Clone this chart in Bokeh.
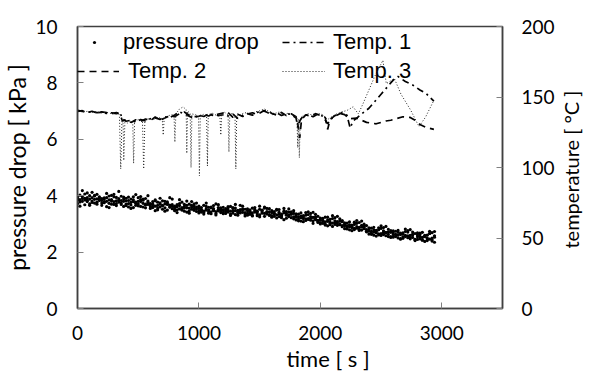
import math
from bokeh.plotting import figure
from bokeh.models import Range1d, LinearAxis, FixedTicker, Legend, LegendItem, Title
from bokeh.embed import file_html
from bokeh.resources import INLINE

# ---------------- data ----------------
pd_time = [0, 20, 40, 60, 80, 100, 120, 140, 160, 180,
           200, 220, 240, 260, 280, 300, 320, 340, 360, 380,
           400, 420, 440, 460, 480, 500, 520, 540, 560, 580,
           600, 620, 640, 660, 680, 700, 720, 740, 760, 780,
           800, 820, 840, 860, 880, 900, 920, 940, 960, 980,
           1000, 1020, 1040, 1060, 1080, 1100, 1120, 1140, 1160, 1180,
           1200, 1220, 1240, 1260, 1280, 1300, 1320, 1340, 1360, 1380,
           1400, 1420, 1440, 1460, 1480, 1500, 1520, 1540, 1560, 1580,
           1600, 1620, 1640, 1660, 1680, 1700, 1720, 1740, 1760, 1780,
           1800, 1820, 1840, 1860, 1880, 1900, 1920, 1940, 1960, 1980,
           2000, 2020, 2040, 2060, 2080, 2100, 2120, 2140, 2160, 2180,
           2200, 2220, 2240, 2260, 2280, 2300, 2320, 2340, 2360, 2380,
           2400, 2420, 2440, 2460, 2480, 2500, 2520, 2540, 2560, 2580,
           2600, 2620, 2640, 2660, 2680, 2700, 2720, 2740, 2760, 2780,
           2800, 2820, 2840, 2860, 2880, 2900, 2920, 2940]

pd_a = [3.95, 4.02, 3.80, 3.91, 4.10, 3.88, 3.76, 3.99, 4.05, 3.83,
        3.90, 3.78, 4.08, 3.85, 3.70, 3.96, 3.82, 4.15, 3.74, 3.88,
        3.82, 3.95, 3.67, 3.79, 4.04, 3.71, 3.86, 3.60, 3.90, 3.76,
        3.72, 3.58, 3.85, 3.66, 3.75, 3.52, 3.80, 3.69, 3.61, 3.88,
        3.63, 3.50, 3.72, 3.58, 3.45, 3.81, 3.56, 3.66, 3.48, 3.60,
        3.55, 3.42, 3.66, 3.49, 3.38, 3.60, 3.47, 3.71, 3.52, 3.40,
        3.50, 3.37, 3.61, 3.45, 3.55, 3.33, 3.48, 3.66, 3.41, 3.52,
        3.47, 3.34, 3.56, 3.42, 3.29, 3.52, 3.38, 3.60, 3.44, 3.33,
        3.40, 3.27, 3.49, 3.35, 3.22, 3.45, 3.31, 3.53, 3.38, 3.25,
        3.30, 3.17, 3.39, 3.24, 3.12, 3.33, 3.20, 3.41, 3.15, 3.27,
        3.15, 3.02, 3.24, 3.09, 2.97, 3.19, 3.05, 3.27, 3.00, 3.12,
        2.99, 2.86, 3.07, 2.92, 2.80, 3.02, 2.88, 3.10, 2.83, 2.94,
        2.80, 2.67, 2.88, 2.73, 2.61, 2.84, 2.69, 2.91, 2.63, 2.76,
        2.69, 2.55, 2.77, 2.62, 2.49, 2.73, 2.58, 2.80, 2.52, 2.66,
        2.61, 2.47, 2.70, 2.55, 2.41, 2.66, 2.50, 2.73]

pd_b = [3.72, 3.86, 3.97, 3.68, 3.84, 4.00, 3.93, 3.74, 3.89, 3.96,
        3.66, 3.92, 3.80, 3.73, 4.01, 3.69, 3.94, 3.77, 3.98, 3.62,
        3.65, 3.72, 3.88, 3.58, 3.77, 3.93, 3.62, 3.84, 3.70, 3.81,
        3.55, 3.79, 3.63, 3.50, 3.70, 3.82, 3.57, 3.74, 3.93, 3.54,
        3.47, 3.68, 3.53, 3.77, 3.61, 3.42, 3.70, 3.52, 3.64, 3.74,
        3.39, 3.58, 3.45, 3.62, 3.50, 3.36, 3.54, 3.44, 3.68, 3.51,
        3.36, 3.54, 3.42, 3.30, 3.58, 3.47, 3.39, 3.51, 3.63, 3.35,
        3.31, 3.50, 3.39, 3.58, 3.45, 3.32, 3.49, 3.27, 3.41, 3.54,
        3.24, 3.44, 3.32, 3.51, 3.28, 3.39, 3.20, 3.42, 3.34, 3.47,
        3.14, 3.35, 3.22, 3.08, 3.31, 3.19, 3.37, 3.11, 3.25, 3.05,
        3.00, 3.20, 3.07, 2.93, 3.16, 3.03, 3.22, 2.95, 3.10, 2.90,
        2.83, 3.03, 2.90, 2.76, 2.98, 2.85, 3.05, 2.78, 2.91, 2.72,
        2.64, 2.85, 2.71, 2.57, 2.79, 2.66, 2.87, 2.58, 2.72, 2.52,
        2.53, 2.74, 2.60, 2.46, 2.68, 2.55, 2.76, 2.47, 2.63, 2.41,
        2.45, 2.67, 2.52, 2.38, 2.60, 2.46, 2.69, 2.35]

pd_c = [3.84, 3.63, 3.90, 4.06, 3.79, 3.71, 4.12, 3.87, 3.70, 3.92,
        3.83, 3.75, 3.61, 3.99, 3.86, 3.79, 3.65, 3.90, 3.83, 3.95,
        3.91, 3.60, 3.76, 3.85, 3.66, 3.80, 3.97, 3.73, 3.57, 3.69,
        3.68, 3.62, 3.47, 3.77, 3.60, 3.66, 3.71, 3.49, 3.67, 3.63,
        3.58, 3.40, 3.65, 3.51, 3.69, 3.57, 3.46, 3.79, 3.55, 3.44,
        3.63, 3.48, 3.35, 3.53, 3.59, 3.43, 3.65, 3.37, 3.46, 3.57,
        3.59, 3.44, 3.49, 3.62, 3.38, 3.56, 3.31, 3.46, 3.53, 3.40,
        3.53, 3.41, 3.28, 3.46, 3.36, 3.63, 3.43, 3.37, 3.55, 3.30,
        3.47, 3.36, 3.21, 3.41, 3.30, 3.55, 3.37, 3.26, 3.43, 3.18,
        3.36, 3.25, 3.10, 3.29, 3.18, 3.43, 3.13, 3.23, 3.34, 3.09,
        3.21, 3.10, 2.96, 3.14, 3.01, 3.29, 2.98, 3.08, 3.18, 2.94,
        3.04, 2.93, 2.79, 2.96, 2.84, 3.12, 2.81, 2.89, 2.99, 2.74,
        2.86, 2.74, 2.60, 2.77, 2.65, 2.93, 2.62, 2.70, 2.81, 2.55,
        2.75, 2.63, 2.50, 2.67, 2.54, 2.82, 2.51, 2.59, 2.71, 2.44,
        2.68, 2.55, 2.42, 2.59, 2.47, 2.74, 2.44, 2.58]

pd_d = [3.89, 3.78, 4.18, 3.85, 3.93, 3.66, 3.81, 4.01, 3.77, 3.86,
        3.74, 3.87, 3.93, 3.58, 3.81, 4.05, 3.72, 3.84, 3.69, 3.80,
        3.70, 3.83, 3.55, 3.96, 3.73, 3.64, 3.79, 3.88, 3.67, 4.00,
        3.61, 3.70, 3.82, 3.56, 3.91, 3.64, 3.45, 3.78, 3.59, 3.68,
        3.52, 3.61, 3.86, 3.49, 3.57, 3.66, 3.38, 3.60, 3.71, 3.53,
        3.46, 3.51, 3.40, 3.74, 3.44, 3.57, 3.49, 3.32, 3.58, 3.47,
        3.41, 3.48, 3.57, 3.35, 3.46, 3.69, 3.43, 3.39, 3.50, 3.28,
        3.37, 3.45, 3.30, 3.51, 3.42, 3.25, 3.48, 3.56, 3.35, 3.43,
        3.29, 3.38, 3.52, 3.26, 3.35, 3.15, 3.44, 3.31, 3.22, 3.37,
        3.24, 3.11, 3.28, 3.19, 3.40, 3.16, 3.26, 3.02, 3.21, 3.13,
        3.05, 3.13, 2.99, 3.24, 3.06, 2.91, 3.11, 3.03, 2.97, 3.08,
        2.93, 2.82, 2.97, 2.87, 3.06, 2.90, 2.77, 2.95, 2.86, 2.80,
        2.74, 2.63, 2.78, 2.69, 2.86, 2.59, 2.75, 2.68, 2.55, 2.70,
        2.62, 2.57, 2.70, 2.48, 2.64, 2.59, 2.71, 2.53, 2.61, 2.45,
        2.54, 2.62, 2.43, 2.57, 2.50, 2.66, 2.39, 2.53]

t1_time = [0, 40, 80, 120, 160, 200, 240, 280, 320, 350, 370,
           400, 440, 480, 520, 560, 600, 640, 680, 720, 760,
           800, 840, 880, 920, 960, 1000, 1040, 1080, 1120, 1160,
           1200, 1240, 1280, 1320, 1360, 1400, 1440, 1480, 1520, 1560,
           1600, 1640, 1680, 1720, 1760, 1800, 1815, 1830,
           1860, 1900, 1940, 1980, 2020, 2060, 2100, 2140, 2180, 2220,
           2245, 2270, 2300, 2340, 2400, 2450, 2500, 2550, 2600, 2640,
           2700, 2760, 2820, 2870, 2935]
temp1 = [140.5, 139.8, 139.2, 139.6, 138.9, 139.1, 138.4, 138.8, 138.2, 139.0, 134.5,
         132.8, 133.5, 132.2, 134.0, 133.1, 134.6, 135.2, 134.1, 136.0, 135.4,
         137.2, 139.5, 138.0, 136.4, 135.0, 137.1, 136.2, 138.0, 136.8, 137.9,
         138.6, 136.5, 137.8, 134.8, 137.0, 138.2, 137.1, 139.0, 140.6, 139.2,
         137.5, 138.8, 136.9, 138.3, 137.6, 135.0, 128.5, 133.0,
         136.8, 137.5, 136.0, 137.9, 136.4, 131.0, 135.5, 137.2, 139.0, 137.0,
         128.0, 133.0, 135.0, 138.0, 142.0, 147.0, 152.0, 157.0, 162.0, 164.5,
         161.0, 158.5, 155.0, 152.5, 147.0]

t2_time = [0, 40, 80, 120, 160, 200, 240, 280, 320, 350, 370,
           400, 440, 480, 520, 560, 600, 640, 680, 720, 760,
           800, 840, 880, 920, 960, 1000, 1040, 1080, 1120, 1160,
           1200, 1240, 1280, 1320, 1360, 1400, 1440, 1480, 1520, 1560,
           1600, 1640, 1680, 1720, 1760, 1800,
           1815, 1830, 1845, 1880, 1920, 1960, 2000, 2040, 2060, 2080,
           2120, 2160, 2200, 2240, 2300, 2340, 2380, 2420, 2460, 2500,
           2540, 2580, 2620, 2680, 2740, 2780, 2820, 2870, 2935]
temp2 = [139.8, 140.3, 138.9, 139.9, 138.6, 139.5, 138.9, 138.1, 139.0, 137.8, 133.0,
         133.9, 132.0, 133.8, 132.6, 134.4, 133.2, 135.8, 133.6, 135.1, 136.7,
         136.0, 138.2, 139.4, 137.1, 136.0, 136.3, 137.6, 136.5, 138.4, 136.7,
         137.4, 138.9, 135.6, 137.8, 136.2, 137.9, 138.8, 137.5, 139.6, 141.0,
         138.3, 137.2, 139.1, 136.8, 138.1, 136.0,
         130.5, 121.0, 134.0, 137.3, 136.4, 138.2, 136.9, 135.5, 127.0, 134.0,
         136.8, 138.4, 137.5, 134.5, 135.0, 133.5, 132.0, 131.5, 131.0, 132.0,
         133.0, 133.5, 134.5, 136.0, 135.5, 133.5, 130.5, 128.5, 127.0]

t3_time = [0, 40, 80, 120, 160, 200, 240, 280, 320, 345,
           356, 366, 376, 381, 390, 410, 440, 455, 462, 470,
           500, 535, 545, 555, 580, 620, 660, 698, 706, 714,
           740, 780, 795, 802, 810, 840, 870, 895, 900, 906,
           928, 935, 942, 970, 997, 1004, 1011, 1040, 1063, 1070,
           1077, 1110, 1140, 1172, 1180, 1188, 1210, 1240, 1247, 1254,
           1280, 1297, 1304, 1311, 1340, 1380, 1420, 1460, 1500, 1540,
           1580, 1620, 1660, 1700, 1740, 1780, 1807, 1814, 1820, 1827,
           1834, 1860, 1900, 1940, 1980, 2020, 2060, 2100, 2140, 2180,
           2220, 2270, 2313, 2350, 2400, 2450, 2515, 2543, 2610, 2664,
           2745, 2812, 2866, 2934]
temp3 = [140.2, 139.5, 139.8, 139.0, 139.4, 138.7, 139.1, 138.3, 138.6, 137.5,
         99, 133, 131, 105, 132, 131.5, 133, 132, 103, 132.5,
         134, 133, 99, 133.5, 134.5, 133.8, 135.5, 134.8, 123, 135,
         136.5, 137.5, 137, 118, 138, 141.5, 143, 141, 110, 140,
         138.5, 100, 138, 137.5, 136.5, 94, 136.5, 137.8, 137, 101,
         137.5, 138.5, 137.2, 138, 123, 138.5, 139.2, 137.5, 111, 137.8,
         138.4, 137, 99, 136.5, 137.5, 138.9, 137.6, 139.4, 140.2, 141.5,
         139.6, 138.2, 139.3, 137.7, 138.6, 136.8, 135.5, 114, 134, 107,
         134.5, 137, 138.2, 136.9, 138.5, 137.4, 134, 136.5, 138.2, 139.5,
         140.5, 143, 138, 145, 155, 165, 176, 159.5, 163, 152,
         140.5, 129, 135.7, 147.5]

x_ticks = [0, 1000, 2000, 3000]
pd_ticks = [0, 2, 4, 6, 8, 10]
temp_ticks = [0, 50, 100, 150, 200]

# ---------------- figure ----------------
p = figure(width=597, height=372, output_backend="svg", toolbar_location=None,
           x_range=Range1d(0, 3500), y_range=Range1d(0, 10),
           min_border_left=76, min_border_right=89, min_border_top=26, min_border_bottom=64)
p.extra_y_ranges = {"temp": Range1d(0, 200)}
p.grid.visible = False
p.outline_line_color = "#404040"
p.outline_line_width = 1.5
p.background_fill_color = "white"
p.border_fill_color = "white"

r_pd = p.scatter(pd_time * 4, pd_a + pd_b + pd_c + pd_d, size=3.2, marker="circle",
                 fill_color="black", line_color="black", line_width=0)
r1 = p.line(t1_time, temp1, y_range_name="temp", line_color="black",
            line_width=1.7, line_dash="7 4 2 4")
r2 = p.line(t2_time, temp2, y_range_name="temp", line_color="black",
            line_width=1.7, line_dash="7 5")
r3 = p.line(t3_time, temp3, y_range_name="temp", line_color="#222222",
            line_width=1.0, line_dash="1 2")

right_axis = LinearAxis(y_range_name="temp")
p.add_layout(right_axis, "right")

def style(ax, ticks):
    ax.ticker = FixedTicker(ticks=ticks)
    ax.major_tick_in = 6
    ax.major_tick_out = 0
    ax.minor_tick_line_color = None
    ax.major_tick_line_color = "#808080"
    ax.axis_line_color = "#404040"
    ax.axis_line_width = 1.5
    ax.major_label_text_font = "Lato"
    ax.major_label_text_font_size = "19px"
    ax.major_label_text_color = "black"
    ax.major_label_standoff = 22
    ax.axis_label_text_font = "Lato"
    ax.axis_label_text_font_style = "normal"
    ax.axis_label_text_color = "black"

style(p.xaxis[0], x_ticks)
style(p.yaxis[0], pd_ticks)
style(right_axis, temp_ticks)
p.xaxis[0].major_label_standoff = 17
p.yaxis[0].major_label_standoff = 20
right_axis.major_label_standoff = 19

p.yaxis[0].axis_label = "pressure drop [ kPa ]"
p.yaxis[0].axis_label_text_font_size = "23px"
p.yaxis[0].axis_label_standoff = 1
# label reads bottom-to-top; anchored at the bottom of the axis and pushed up by leading em-spaces
right_axis.axis_label = "\u2003\u2003\u2003\u2003temperature [ °C ]"
right_axis.axis_label_text_font_size = "20px"
right_axis.axis_label_standoff = 13
right_axis.axis_label_orientation = math.pi / 2
right_axis.axis_label_align = "start"

xtitle = Title(text="time [ s ]", align="left", offset=209, standoff=0,
               text_font="Lato", text_font_size="22px", text_font_style="normal",
               text_color="black", vertical_align="bottom")
p.add_layout(xtitle, "below")

def make_legend(item, loc, glyph_w, standoff):
    leg = Legend(items=[item], orientation="horizontal", location=loc)
    leg.background_fill_alpha = 0
    leg.border_line_color = None
    leg.padding = 0
    leg.margin = 0
    leg.spacing = 0
    leg.glyph_width = glyph_w
    leg.glyph_height = 26
    leg.label_height = 26
    leg.label_standoff = standoff
    leg.label_text_font = "Liberation Sans"
    leg.label_text_font_size = "22px"
    leg.label_text_color = "black"
    return leg

p.add_layout(make_legend(LegendItem(label="pressure drop", renderers=[r_pd]), (13, 253), 8, 25))
p.add_layout(make_legend(LegendItem(label="Temp. 1", renderers=[r1]), (205, 253), 43, 8))
p.add_layout(make_legend(LegendItem(label="Temp. 2", renderers=[r2]), (0, 224), 42, 9))
p.add_layout(make_legend(LegendItem(label="Temp. 3", renderers=[r3]), (205, 224), 43, 8))

open("out.html", "w").write(file_html(p, INLINE))
